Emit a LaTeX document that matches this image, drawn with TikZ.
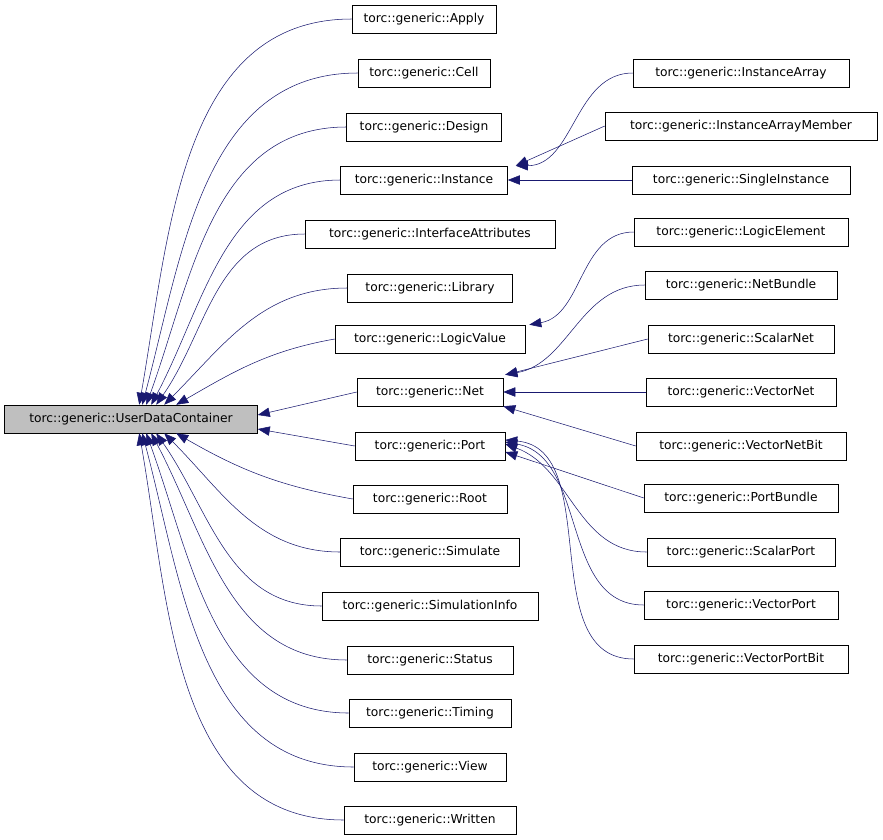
\documentclass[tikz,border=0pt]{standalone}
\usepackage{fontspec}
\setmainfont{DejaVu Sans}
\usetikzlibrary{arrows.meta,positioning}
\definecolor{edgeblue}{RGB}{25,25,112}
\definecolor{rootgray}{RGB}{191,191,191}

\tikzset{
  cls/.style={draw, minimum height=28*0.75pt, inner sep=2pt, font=\fontsize{9.2}{11}\selectfont},
  base/.style={cls, fill=rootgray},
  edge/.style={draw=edgeblue, -{Triangle[length=9pt,width=7pt,fill=edgeblue]}},
}

\begin{document}
\begin{tikzpicture}[x=0.75pt, y=-0.75pt]
  \useasboundingbox (0,0) rectangle (883,840);

  % base class
  \node[base, minimum width=253*0.75pt] (udc) at (131,419) {torc::generic::UserDataContainer};

  % direct subclasses
  \node[cls, minimum width=144*0.75pt] (apply)  at (424,19)  {torc::generic::Apply};
  \node[cls, minimum width=132*0.75pt] (cell)   at (424,73)  {torc::generic::Cell};
  \node[cls, minimum width=155*0.75pt] (design) at (424,127) {torc::generic::Design};
  \node[cls, minimum width=167*0.75pt] (inst)   at (424,180) {torc::generic::Instance};
  \node[cls, minimum width=250*0.75pt] (iface)  at (430,234) {torc::generic::InterfaceAttributes};
  \node[cls, minimum width=165*0.75pt] (lib)    at (430,288) {torc::generic::Library};
  \node[cls, minimum width=190*0.75pt] (logval) at (430,339) {torc::generic::LogicValue};
  \node[cls, minimum width=146*0.75pt] (net)    at (430,392) {torc::generic::Net};
  \node[cls, minimum width=150*0.75pt] (port)   at (430,446) {torc::generic::Port};
  \node[cls, minimum width=154*0.75pt] (root)   at (430,499) {torc::generic::Root};
  \node[cls, minimum width=179*0.75pt] (sim)    at (430,552) {torc::generic::Simulate};
  \node[cls, minimum width=216*0.75pt] (siminfo) at (430,606) {torc::generic::SimulationInfo};
  \node[cls, minimum width=166*0.75pt] (status) at (430,660) {torc::generic::Status};
  \node[cls, minimum width=162*0.75pt] (timing) at (430,713) {torc::generic::Timing};
  \node[cls, minimum width=152*0.75pt] (view)   at (430,767) {torc::generic::View};
  \node[cls, minimum width=172*0.75pt] (written) at (430,820) {torc::generic::Written};

  % second level
  \node[cls, minimum width=216*0.75pt] (instarr)  at (741,73)  {torc::generic::InstanceArray};
  \node[cls, minimum width=272*0.75pt] (instmem)  at (741,126) {torc::generic::InstanceArrayMember};
  \node[cls, minimum width=218*0.75pt] (single)   at (741,180) {torc::generic::SingleInstance};
  \node[cls, minimum width=214*0.75pt] (logel)    at (741,232) {torc::generic::LogicElement};
  \node[cls, minimum width=192*0.75pt] (netbun)   at (741,285) {torc::generic::NetBundle};
  \node[cls, minimum width=186*0.75pt] (scnet)    at (741,339) {torc::generic::ScalarNet};
  \node[cls, minimum width=190*0.75pt] (vecnet)   at (741,392) {torc::generic::VectorNet};
  \node[cls, minimum width=210*0.75pt] (vecbit)   at (741,446) {torc::generic::VectorNetBit};
  \node[cls, minimum width=194*0.75pt] (portbun)  at (741,498) {torc::generic::PortBundle};
  \node[cls, minimum width=188*0.75pt] (scport)   at (741,552) {torc::generic::ScalarPort};
  \node[cls, minimum width=194*0.75pt] (vecport)  at (741,605) {torc::generic::VectorPort};
  \node[cls, minimum width=214*0.75pt] (vpbit)    at (741,659) {torc::generic::VectorPortBit};

  % edges to the base class
  \draw[edge] (apply.west)  to[out=180,in=80] ([xshift=135*0.75pt]udc.north west);
  \draw[edge] (cell.west)   to[out=180,in=75] ([xshift=138*0.75pt]udc.north west);
  \draw[edge] (design.west) to[out=180,in=70] ([xshift=142*0.75pt]udc.north west);
  \draw[edge] (inst.west)   to[out=180,in=62] ([xshift=147*0.75pt]udc.north west);
  \draw[edge] (iface.west)  to[out=180,in=55] ([xshift=152*0.75pt]udc.north west);
  \draw[edge] (lib.west)    to[out=180,in=45] ([xshift=160*0.75pt]udc.north west);
  \draw[edge] (logval.west) to[out=190,in=30] ([xshift=172*0.75pt]udc.north west);
  \draw[edge] (net.west)    -- ([yshift=4*0.75pt]udc.east);
  \draw[edge] (port.west)   -- ([yshift=-10*0.75pt]udc.east);
  \draw[edge] (root.west)   to[out=170,in=-30] ([xshift=172*0.75pt]udc.south west);
  \draw[edge] (sim.west)    to[out=180,in=-45] ([xshift=160*0.75pt]udc.south west);
  \draw[edge] (siminfo.west) to[out=180,in=-55] ([xshift=152*0.75pt]udc.south west);
  \draw[edge] (status.west) to[out=180,in=-62] ([xshift=147*0.75pt]udc.south west);
  \draw[edge] (timing.west) to[out=180,in=-70] ([xshift=142*0.75pt]udc.south west);
  \draw[edge] (view.west)   to[out=180,in=-75] ([xshift=138*0.75pt]udc.south west);
  \draw[edge] (written.west) to[out=180,in=-80] ([xshift=135*0.75pt]udc.south west);

  % edges to second-level parents
  \draw[edge] (instarr.west) to[out=180,in=0] ([xshift=8*0.75pt]inst.north east);
  \draw[edge] (instmem.west) -- ([xshift=8*0.75pt]inst.north east);
  \draw[edge] (single.west)  -- (inst.east);
  \draw[edge] (logel.west)   to[out=180,in=10] ([xshift=4*0.75pt]logval.north east);
  \draw[edge] (netbun.west)  to[out=180,in=10] ([xshift=2*0.75pt,yshift=3*0.75pt]net.north east);
  \draw[edge] (scnet.west)   -- ([xshift=2*0.75pt,yshift=3*0.75pt]net.north east);
  \draw[edge] (vecnet.west)  -- (net.east);
  \draw[edge] (vecbit.west)  -- (net.south east);
  \draw[edge] (portbun.west) -- ([yshift=-6*0.75pt]port.east);
  \draw[edge] (scport.west)  to[out=180,in=-20] ([yshift=2*0.75pt]port.east);
  \draw[edge] (vecport.west) to[out=180,in=-10] ([yshift=4*0.75pt]port.east);
  \draw[edge] (vpbit.west)   to[out=180,in=-5] ([yshift=6*0.75pt]port.east);
\end{tikzpicture}
\end{document}
